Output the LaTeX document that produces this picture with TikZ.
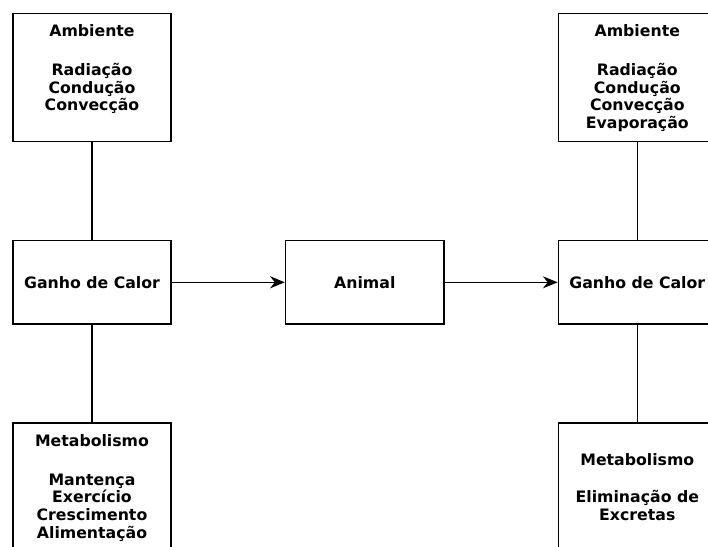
\documentclass[tikz,border=0pt]{standalone}
\usepackage{fontspec}
\setmainfont{DejaVu Sans}
\usetikzlibrary{arrows.meta}
\begin{document}
\begin{tikzpicture}[x=0.75pt,y=-0.75pt,
  boxfont/.style={font=\fontsize{11.8pt}{13.35pt}\selectfont\bfseries},
  box/.style={draw=black, line width=1pt, fill=white, minimum width=118.5pt,
    inner sep=0pt, boxfont},
  boxtext/.style={align=center, inner sep=0pt, anchor=north, boxfont},
  link/.style={draw=black, line width=1pt},
  flow/.style={draw=black, line width=1pt,
    -{Stealth[length=11pt,width=9pt,inset=3.5pt]}}]
\useasboundingbox (0,0) rectangle (708,547);
\clip (0,0) rectangle (708,547);

% left column
\node[box, minimum height=96.3pt] (amb1) at (92,77.5) {};
\node[boxtext] (amb1t) at (92,24.7)
  {Ambiente\\[15.4pt]Radiação\\Condução\\Convecção};
\node[box, minimum height=62.5pt] (gan1) at (92,282.3) {Ganho de Calor};
\node[box, minimum height=97.5pt] (met1) at (92,488) {};
\node[boxtext] (met1t) at (92,434.2)
  {Metabolismo\\[15.6pt]Mantença\\Exercício\\Crescimento\\Alimentação};

% centre
\node[box, minimum height=62.5pt, minimum width=119pt] (ani) at (364.8,282.3) {Animal};

% right column
\node[box, minimum height=96.3pt] (amb2) at (637.3,77.5) {};
\node[boxtext] (amb2t) at (637.3,24.7)
  {Ambiente\\[15.4pt]Radiação\\Condução\\Convecção\\Evaporação};
\node[box, minimum height=62.5pt] (gan2) at (637.3,282.3) {Ganho de Calor};
\node[box, minimum height=97.5pt] (met2) at (637.3,488) {};
\node[boxtext] (met2t) at (637.3,453)
  {Metabolismo\\[14.6pt]Eliminação de\\Excretas};

% connectors
\draw[link] (amb1) -- (gan1);
\draw[link] (gan1) -- (met1);
\draw[link] (amb2) -- (gan2);
\draw[link] (gan2) -- (met2);
\draw[flow] (gan1) -- (ani);
\draw[flow] (ani) -- (gan2);
\end{tikzpicture}
\end{document}
